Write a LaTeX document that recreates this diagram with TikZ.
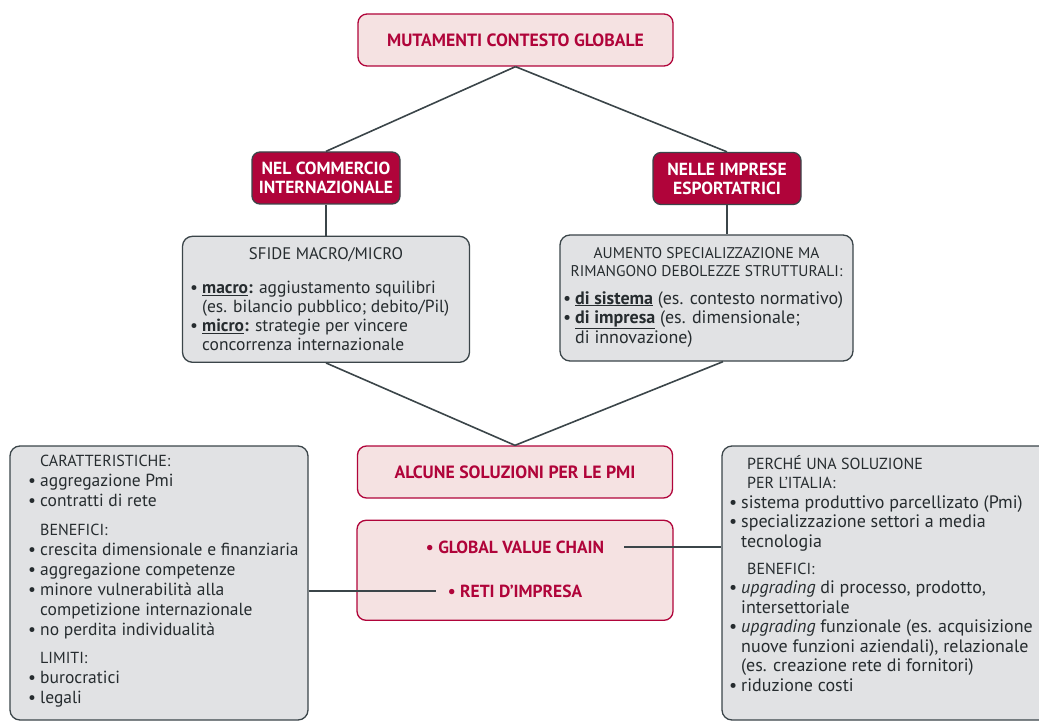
\documentclass[tikz,border=0pt]{standalone}
\usepackage{fontspec}
\setmainfont{PT Sans}
\usepackage{xcolor}
\definecolor{crimson}{HTML}{B0043A}
\definecolor{pinkfill}{HTML}{F5E2E2}
\definecolor{greyfill}{HTML}{E1E2E4}
\definecolor{edgegrey}{HTML}{3B4549}
\definecolor{bodytext}{HTML}{262C2F}
\usetikzlibrary{positioning}
\newcommand{\bodysize}{\fontsize{18}{19.5}\selectfont}
\newcommand{\leftsize}{\fontsize{17.5}{20}\selectfont}
\newcommand{\hd}[1]{{\fontsize{16}{16}\selectfont #1}}
\newcommand{\itm}{\makebox[12pt][l]{\textbullet}}
\newcommand{\ind}{\hspace*{12pt}}

\begin{document}
\begin{tikzpicture}[
        x=1pt, y=-1pt,
        redbox/.style={draw=crimson, fill=pinkfill, rounded corners=9pt, line width=1.3pt, minimum width=315pt, minimum height=52pt, text=crimson, font=\fontsize{17.75}{19}\selectfont\bfseries},
        darkbox/.style={draw=edgegrey, fill=crimson, rounded corners=8pt, line width=1.3pt, minimum width=148pt, minimum height=52pt, align=center, text=white, font=\fontsize{17.5}{19}\selectfont\bfseries},
        greybox/.style={draw=edgegrey, fill=greyfill, rounded corners=10pt, line width=1.3pt},
        txt/.style={inner sep=0pt, align=left, text=bodytext, font=\bodysize},
        link/.style={draw=edgegrey, line width=1.6pt},
    ]
    \useasboundingbox (0,0) rectangle (1039,722);

    % === Top: global context ===
    \node[redbox] (global) at (515.5,40) {MUTAMENTI CONTESTO GLOBALE};

    \node[darkbox] (commercio) at (326,178) {NEL COMMERCIO\\INTERNAZIONALE};
    \node[darkbox] (imprese) at (727,178.5) {NELLE IMPRESE\\ESPORTATRICI};

    \draw[link] (global.south) -- (commercio.north);
    \draw[link] (global.south) -- (imprese.north);

    % === Row 2: challenges ===
    \node[greybox, minimum width=287pt, minimum height=126pt, below=31pt of commercio] (sfide) {};
    \node[greybox, minimum width=293pt, minimum height=126pt] (aumento) at (706.5,298) {};

    \node[txt, align=center, anchor=north, font=\fontsize{16.75}{17.5}\selectfont] (sfidetit) at ([yshift=-11.5pt]sfide.north) {SFIDE MACRO/MICRO};
    \node[txt, anchor=north west, font=\fontsize{17.5}{19}\selectfont] (sfidetxt) at (190,281) {%
        \itm\underline{\textbf{macro}}\textbf{:} aggiustamento squilibri\\
        \ind(es. bilancio pubblico; debito/Pil)\\
        \itm\underline{\textbf{micro}}\textbf{:} strategie per vincere\\
        \ind concorrenza internazionale};

    \node[txt, align=center, anchor=north, font=\fontsize{15.5}{17.5}\selectfont] (aumtit) at ([yshift=-13pt]aumento.north) {AUMENTO SPECIALIZZAZIONE MA\\RIMANGONO DEBOLEZZE STRUTTURALI:};
    \node[txt, anchor=north west] (aumtxt) at (563,291) {%
        \itm\underline{\textbf{di sistema}} (es. contesto normativo)\\
        \itm\underline{\textbf{di impresa}} (es. dimensionale;\\
        \ind di innovazione)};

    \draw[link] (commercio.south) -- (sfide.north);
    \draw[link] (imprese.south) -- (imprese.south |- aumento.north);

    % === Row 3: solutions ===
    \node[redbox] (alcune) at (515,472) {ALCUNE SOLUZIONI PER LE PMI};
    \node[redbox, minimum width=316pt, minimum height=100pt, below=21pt of alcune] (soluz) {};
    \node[txt, text=crimson, font=\fontsize{17.5}{19}\selectfont\bfseries] (gvc) at (515,547) {\textbullet\ GLOBAL VALUE CHAIN};
    \node[txt, text=crimson, font=\fontsize{17.5}{19}\selectfont\bfseries] (reti) at (515,591) {\textbullet\ RETI D'IMPRESA};

    \draw[link] (sfide.south) -- (alcune.north);
    \draw[link] (aumento.south -| imprese.south) ++(-4,0) coordinate (aumfoot) -- (alcune.north);

    % === Bottom: detail boxes ===
    \node[greybox, minimum width=298pt, minimum height=274pt] (reti box) at (159,583) {};
    \node[greybox, minimum width=330pt, minimum height=274pt] (gvc box) at (887,583) {};

    \node[txt, anchor=north west, font=\leftsize] (retitxt) at (28,455) {%
        \ind\hd{CARATTERISTICHE:}\\
        \itm aggregazione Pmi\\
        \itm contratti di rete\\[8.5pt]
        \ind\hd{BENEFICI:}\\
        \itm crescita dimensionale e finanziaria\\
        \itm aggregazione competenze\\
        \itm minore vulnerabilità alla\\
        \ind competizione internazionale\\
        \itm no perdita individualità\\[8.5pt]
        \ind\hd{LIMITI:}\\
        \itm burocratici\\
        \itm legali};

    \node[txt, anchor=north west] (gvctxt) at (729,455) {%
        \ind\hspace*{6pt}\hd{PERCHÉ UNA SOLUZIONE}\\
        \ind\hspace*{6pt}\hd{PER L'ITALIA:}\\
        \itm sistema produttivo parcellizato (Pmi)\\
        \itm specializzazione settori a media\\
        \ind tecnologia\\[7.5pt]
        \ind\hspace*{6pt}\hd{BENEFICI:}\\
        \itm\textit{upgrading} di processo, prodotto,\\
        \ind intersettoriale\\
        \itm\textit{upgrading} funzionale (es. acquisizione\\
        \ind nuove funzioni aziendali), relazionale\\
        \ind(es. creazione rete di fornitori)\\
        \itm riduzione costi};

    \draw[link] ([xshift=20pt]gvc.east) -- (gvc.east -| gvc box.west);
    \draw[link] (reti box.east |- reti.west) -- ([xshift=-12pt]reti.west);

\end{tikzpicture}
\end{document}
